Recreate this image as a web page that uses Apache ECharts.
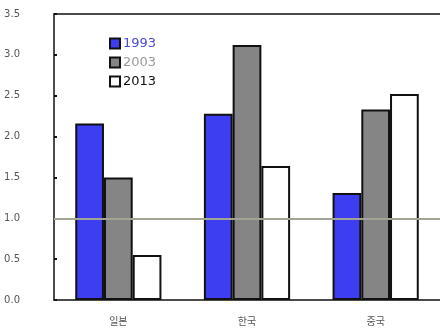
<!doctype html>
<html>
<head>
<meta charset="utf-8">
<script src="https://cdn.jsdelivr.net/npm/echarts@6/dist/echarts.min.js"></script>
<style>
	html, body { margin: 0; padding: 0; background: #fff; }
	#chart { width: 440px; height: 330px; }
</style>
</head>
<body>
<div id="chart"></div>
<script>
	var countries = ['일본', '한국', '중국'];
	var years = ['1993', '2003', '2013'];
	var v1993 = [2.16, 2.28, 1.31];
	var v2003 = [1.50, 3.12, 2.33];
	var v2013 = [0.55, 1.64, 2.52];
	var yTicks = ['0.0', '0.5', '1.0', '1.5', '2.0', '2.5', '3.0', '3.5'];

	var fills = ['#3d3df2', '#858585', '#ffffff'];
	var textColors = ['#4a4ad8', '#9a9a9a', '#111111'];
	var values = [v1993, v2003, v2013];

	var myChart = echarts.init(document.getElementById('chart'));
	var series = years.map(function(y, i) {
		var s = {
			name: y,
			type: 'bar',
			data: values[i],
			barGap: '0%',
			barCategoryGap: '33%',
			itemStyle: { color: fills[i], borderColor: '#111', borderWidth: 2 }
		};
		if (i == 2) {
			s.markLine = {
				silent: true,
				symbol: 'none',
				label: { show: false },
				lineStyle: { color: '#a3a395', width: 2, type: 'solid' },
				data: [{ yAxis: 1.0 }]
			};
		}
		return s;
	});

	var option = {
		animation: false,
		grid: { left: 54, right: -4, top: 14, bottom: 30 },
		legend: {
			orient: 'vertical',
			left: 104,
			top: 32,
			icon: 'rect',
			itemWidth: 10,
			itemHeight: 10,
			itemGap: 6,
			data: years.map(function(y, i) {
				return { name: y, textStyle: { color: textColors[i] } };
			}),
			textStyle: { fontFamily: 'DejaVu Sans', fontSize: 13, padding: [0, 0, 0, -2] }
		},
		xAxis: [{
			type: 'category',
			data: countries,
			axisLine: { lineStyle: { color: '#111', width: 1.5 } },
			axisTick: { show: false },
			axisLabel: { color: '#555', fontSize: 10, margin: 16, fontFamily: 'Noto Sans CJK KR' }
		}, {
			type: 'category',
			data: countries,
			position: 'top',
			axisLine: { show: true, lineStyle: { color: '#111', width: 1.5 } },
			axisTick: { show: false },
			axisLabel: { show: false }
		}],
		yAxis: {
			type: 'value',
			min: 0,
			max: 3.5,
			interval: 0.5,
			axisLine: { show: true, lineStyle: { color: '#111', width: 1.5 } },
			axisTick: { show: true, inside: true, length: 3, lineStyle: { color: '#111', width: 2 } },
			splitLine: { show: false },
			axisLabel: {
				color: '#555',
				fontSize: 10,
				fontFamily: 'DejaVu Sans',
				margin: 34,
				formatter: function(v) { return yTicks[Math.round(v / 0.5)]; }
			}
		},
		series: series
	};
	myChart.setOption(option);
</script>
</body>
</html>
